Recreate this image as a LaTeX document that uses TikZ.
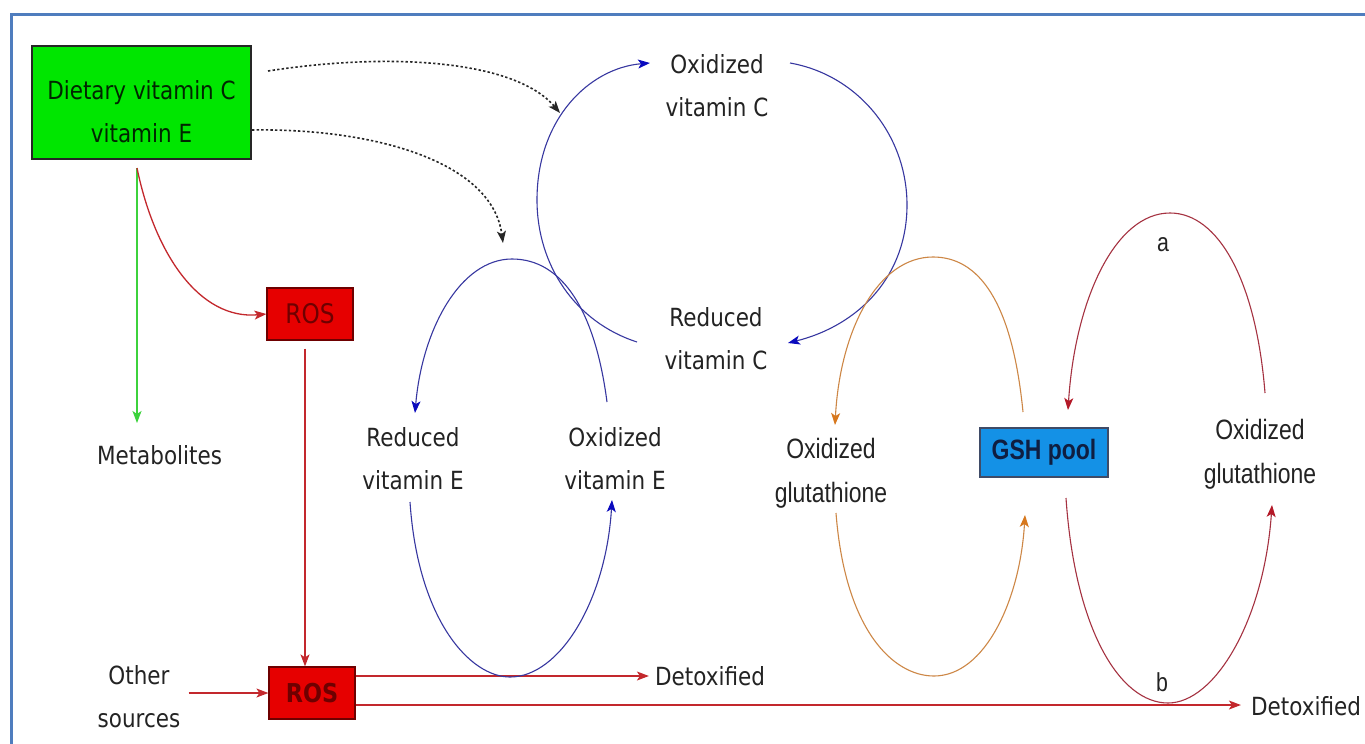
\documentclass[tikz,border=0pt]{standalone}
\usepackage{fontspec}
\usetikzlibrary{arrows.meta}
\newfontfamily\tah[FakeStretch=0.86]{DejaVu Sans}
\newfontfamily\nar[FakeStretch=0.82]{Liberation Sans}
\definecolor{frameblue}{RGB}{79,125,190}
\definecolor{txt}{RGB}{35,35,35}
\definecolor{vitblue}{RGB}{55,55,160}
\definecolor{tipblue}{RGB}{10,10,190}
\definecolor{orng}{RGB}{205,135,70}
\definecolor{tiporng}{RGB}{215,120,30}
\definecolor{loopred}{RGB}{165,50,65}
\definecolor{tipred}{RGB}{180,25,40}
\definecolor{rosred}{RGB}{195,40,45}
\definecolor{boxred}{RGB}{230,0,0}
\definecolor{rostext}{RGB}{110,0,0}
\definecolor{grn}{RGB}{0,230,0}
\definecolor{grnarrow}{RGB}{60,210,60}
\definecolor{gshblue}{RGB}{20,145,230}
\definecolor{gshtext}{RGB}{15,30,65}
\begin{document}
\begin{tikzpicture}[x=1pt,y=-1pt,
  lbl/.style={font=\tah\fontsize{25}{43}\selectfont, align=center, inner sep=0pt, text=txt},
  glbl/.style={font=\nar\fontsize{28}{44}\selectfont, align=center, inner sep=0pt, text=txt},
  bluearc/.style={draw=vitblue, line width=1.1pt, -{Stealth[length=12pt,width=9pt,inset=3pt,color=tipblue]}},
  orarc/.style={draw=orng, line width=1.1pt, -{Stealth[length=12pt,width=9pt,inset=3pt,color=tiporng]}},
  redarc/.style={draw=loopred, line width=1.1pt, -{Stealth[length=12pt,width=9pt,inset=3pt,color=tipred]}},
  rosarr/.style={draw=rosred, line width=1.3pt, -{Stealth[length=12pt,width=9pt,inset=3pt]}},
  dotarr/.style={draw=black!85, line width=1.6pt, dash pattern=on 2.4pt off 2.2pt, -{Stealth[length=12pt,width=9pt,inset=3pt]}},
  rosbox/.style={draw=rostext, line width=1.2pt, fill=boxred, minimum width=86pt, minimum height=52pt, inner sep=0pt, text=rostext}
]
\useasboundingbox (0,0) rectangle (1365,744);
\fill[white] (0,0) rectangle (1365,744);
% frame
\draw[frameblue, line width=3pt] (11,744) -- (11,14) -- (1365,14);

% green box
\node[draw=black!85, line width=1.5pt, fill=grn, minimum width=219pt, minimum height=113pt, inner sep=0pt] (diet) at (141.5,102.5) {};
\node[lbl, text=black!85!green] (dietT) at (141.5,112) {Dietary vitamin C\\vitamin E};

% ROS boxes
\node[rosbox, font=\tah\fontsize{27}{30}\selectfont] (ros1) at (310,314) {ROS};
\node[rosbox, font=\tah\bfseries\fontsize{26}{30}\selectfont] (ros2) at (312,693) {ROS};

% labels
\node[lbl] (oxC) at (717,85.5) {Oxidized\\vitamin C};
\node[lbl] (redC) at (716,338.5) {Reduced\\vitamin C};
\node[lbl] (redE) at (413,458.5) {Reduced\\vitamin E};
\node[lbl] (oxE) at (615,458.5) {Oxidized\\vitamin E};
\node[lbl] (metab) at (159.5,455) {Metabolites};
\node[lbl] (other) at (139,697) {Other\\sources};
\node[lbl] (detox1) at (710,676) {Detoxified};
\node[lbl] (detox2) at (1306,706) {Detoxified};
\node[glbl] (oxG1) at (831,473.5) {Oxidized\\glutathione};
\node[glbl] (oxG2) at (1260,454.5) {Oxidized\\glutathione};
\node[draw=gshtext!80, line width=1.2pt, fill=gshblue, minimum width=128pt, minimum height=49pt, inner sep=0pt,
      font=\nar\bfseries\fontsize{28}{30}\selectfont, text=gshtext] (gsh) at (1044,452.5) {GSH pool};
\node[glbl, font=\nar\fontsize{26}{30}\selectfont] (la) at (1163,245) {a};
\node[glbl, font=\nar\fontsize{26}{30}\selectfont] (lb) at (1162,682) {b};

% connector end points
\coordinate (d1s) at (268,71);
\coordinate (d1e) at (560,113);
\coordinate (d2s) at (252,130);
\coordinate (d2e) at (503,243);
\coordinate (gs) at (137,168);
\coordinate (ge) at (137,423);
\coordinate (cLs) at (637,342);
\coordinate (cLe) at (650,63);
\coordinate (cRs) at (790,63);
\coordinate (cRe) at (788,343);
\coordinate (eTs) at (607,402);
\coordinate (eTe) at (415,413);
\coordinate (eBs) at (410,502);
\coordinate (eBe) at (612,500);
\coordinate (oTs) at (1023,412);
\coordinate (oTe) at (835,425);
\coordinate (oBs) at (836,513);
\coordinate (oBe) at (1025,515);
\coordinate (rTs) at (1265,393);
\coordinate (rTe) at (1068,410);
\coordinate (rBs) at (1066,498);
\coordinate (rBe) at (1272,505);

% dotted arrows
\draw[dotarr] (d1s) .. controls (390,52) and (515,60) .. (d1e);
\draw[dotarr] (d2s) .. controls (370,128) and (492,160) .. (d2e);

% green arrow and red curve from dietary box
\draw[draw=grnarrow, line width=1.3pt, -{Stealth[length=12pt,width=9pt,inset=3pt]}] (gs) -- (ge);
\draw[rosarr] (gs) .. controls (155,255) and (200,320) .. (ros1.west);

% ROS arrows
\draw[rosarr, shorten <=8pt] ([xshift=-5pt]ros1.south) -- ([xshift=-7pt]ros2.north);
\draw[rosarr] ([xshift=8pt]other.east |- ros2.west) -- (ros2.west);
\draw[rosarr] (ros2.east |- detox1.west) -- ([xshift=-6pt]detox1.west);
\draw[rosarr] ([yshift=-12pt]ros2.east) -- ([xshift=-10pt]detox2.west |- 0,705);

% vitamin C cycle
\draw[bluearc] (cLs) .. controls (575,322) and (537,265) .. (537,200) .. controls (537,118) and (590,68) .. (cLe);
\draw[bluearc] (cRs) .. controls (858,75) and (907,135) .. (907,205) .. controls (907,275) and (860,325) .. (cRe);

% vitamin E cycle
\draw[bluearc] (eTs) .. controls (595,310) and (562,259) .. (512,259) .. controls (460,259) and (422,330) .. (eTe);
\draw[bluearc] (eBs) .. controls (418,620) and (470,677) .. (510,677) .. controls (560,677) and (606,600) .. (eBe);

% glutathione (orange) cycle
\draw[orarc] (oTs) .. controls (1012,300) and (978,257) .. (933,257) .. controls (878,257) and (840,330) .. (oTe);
\draw[orarc] (oBs) .. controls (845,630) and (893,676) .. (934,676) .. controls (985,676) and (1020,600) .. (oBe);

% glutathione (red) cycle
\draw[redarc] (rTs) .. controls (1256,280) and (1218,213) .. (1170,213) .. controls (1115,213) and (1075,300) .. (rTe);
\draw[redarc] (rBs) .. controls (1075,630) and (1120,703) .. (1168,703) .. controls (1215,703) and (1264,620) .. (rBe);
\end{tikzpicture}
\end{document}
